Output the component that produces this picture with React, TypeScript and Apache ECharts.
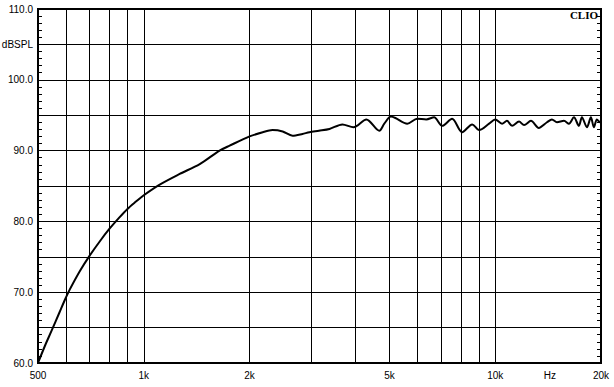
import React, { useEffect, useRef } from "react";
import * as echarts from "echarts";

// Frequency (Hz) and SPL (dB)
const freqs = [
  500, 523, 547, 575, 596, 616, 658, 700, 750, 800,
  850, 900, 950, 1000, 1110, 1265, 1443, 1643, 1755, 2000,
  2180, 2324, 2485, 2650, 2828, 2960, 3150, 3376, 3675, 3950,
  4300, 4680, 4835, 5050, 5200, 5620, 6000, 6365, 6700, 7065,
  7540, 8050, 8600, 9000, 9610, 10000, 10460, 10800, 11170, 11690,
  12080, 12640, 13300, 14040, 14500, 14990, 15690, 16210, 16750, 17300,
  17650, 18240, 18720, 19090, 19470, 19850, 20000,
];
const spl = [
  60.0, 62.4, 64.6, 67.1, 68.9, 70.4, 73.0, 75.1, 77.2, 79.0,
  80.5, 81.8, 82.8, 83.7, 85.2, 86.7, 88.1, 90.0, 90.7, 92.0,
  92.6, 92.9, 92.7, 92.1, 92.35, 92.6, 92.8, 93.05, 93.7, 93.3,
  94.4, 92.8, 93.8, 94.8, 94.6, 93.8, 94.5, 94.4, 94.7, 93.5,
  94.5, 92.6, 93.7, 92.9, 93.8, 94.4, 93.8, 94.2, 93.5, 94.1,
  93.6, 94.2, 93.2, 94.0, 94.4, 94.0, 94.2, 93.8, 94.7, 93.5,
  94.7, 93.3, 94.7, 93.3, 94.4, 94.0, 94.2,
];

// Vertical grid lines (Hz)
const gridFreqs = [600, 700, 800, 900, 1000, 2000, 3000, 4000, 5000, 6000, 7000, 8000, 9000, 10000];
// X tick labels
const xTickValues = [500, 1000, 2000, 5000, 10000, 14300, 20000];
const xTickLabels = ["500", "1k", "2k", "5k", "10k", "Hz", "20k"];

const FONT = "'Liberation Sans', Arial, sans-serif";

export default function App() {
  const ref = useRef<HTMLDivElement>(null);
  useEffect(() => {
    document.body.style.margin = "0";
    const chart = echarts.init(ref.current!, null, { renderer: "svg" });
    const yLabel = (v: number) => {
      if (v === 105) return "dBSPL";
      if (v % 10 === 0) return v.toFixed(1);
      return "";
    };
    chart.setOption({
      animation: false,
      backgroundColor: "#fff",
      grid: {
        left: 38,
        right: 13,
        top: 9,
        bottom: 24,
        show: true,
        borderColor: "#000",
        borderWidth: 2,
        outerBoundsMode: "none",
        containLabel: false,
      },
      xAxis: {
        type: "log",
        logBase: 10,
        min: 500,
        max: 20000,
        axisLine: { show: true, lineStyle: { color: "#000", width: 2 } },
        axisTick: { show: false },
        splitLine: { show: false },
        minorTick: { show: false },
        minorSplitLine: { show: false },
        axisLabel: {
          customValues: xTickValues,
          formatter: (v: number) => {
            const i = xTickValues.findIndex((t) => Math.abs(t - v) < 1);
            return i >= 0 ? xTickLabels[i] : "";
          },
          color: "#000",
          fontSize: 10,
          fontFamily: FONT,
          margin: 7,
          showMinLabel: true,
          showMaxLabel: true,
        },
      },
      yAxis: [
        {
          type: "value",
          min: 60,
          max: 110,
          interval: 5,
          position: "left",
          axisLine: { show: true, lineStyle: { color: "#000", width: 2 } },
          axisTick: { show: true, inside: true, length: 4, lineStyle: { color: "#000" } },
          minorTick: { show: true, splitNumber: 5, length: 4, lineStyle: { color: "#000" } },
          splitLine: { show: true, lineStyle: { color: "#000", width: 1 } },
          axisLabel: {
            formatter: yLabel,
            color: "#000",
            fontSize: 10,
            fontFamily: FONT,
            margin: 5,
          },
        },
        {
          type: "value",
          min: 60,
          max: 110,
          interval: 5,
          position: "right",
          axisLine: { show: true, lineStyle: { color: "#000", width: 2 } },
          axisTick: { show: true, inside: true, length: 4, lineStyle: { color: "#000" } },
          minorTick: { show: true, splitNumber: 5, length: 4, lineStyle: { color: "#000" } },
          splitLine: { show: false },
          axisLabel: { show: false },
        },
      ],
      graphic: [
        {
          type: "text",
          right: 16,
          top: 9,
          style: {
            text: "CLIO",
            fill: "#000",
            font: "bold 11px 'Liberation Serif', 'Times New Roman', serif",
          },
        },
      ],
      series: [
        {
          type: "line",
          yAxisIndex: 0,
          data: freqs.map((f, i) => [f, spl[i]]),
          showSymbol: false,
          smooth: 0.3,
          lineStyle: { color: "#000", width: 2 },
          z: 3,
          silent: true,
          markLine: {
            silent: true,
            symbol: ["none", "none"],
            label: { show: false },
            lineStyle: { color: "#000", width: 1, type: "solid" },
            data: gridFreqs.map((f) => ({ xAxis: f })),
            animation: false,
          },
        },
      ],
    });
    return () => chart.dispose();
  }, []);
  return <div ref={ref} style={{ width: 614, height: 387 }} />;
}
